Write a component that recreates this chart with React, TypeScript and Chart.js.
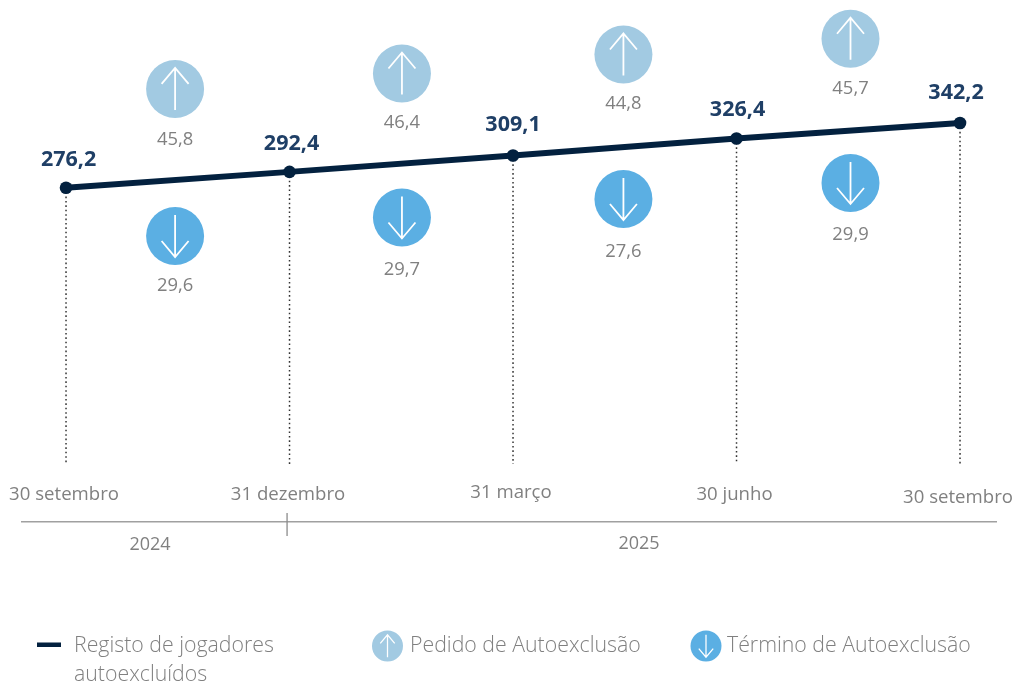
import React, { useEffect, useRef } from "react";
import { Chart, registerables } from "chart.js";

Chart.register(...registerables);

// ---- data ----
const periods = ["30 setembro", "31 dezembro", "31 março", "30 junho", "30 setembro"];
const periodIndex = [0, 1, 2, 3, 4];
const registered = [276.2, 292.4, 309.1, 326.4, 342.2];
const registeredLabels = ["276,2", "292,4", "309,1", "326,4", "342,2"];
const requests = ["45,8", "46,4", "44,8", "45,7"];
const terminations = ["29,6", "29,7", "27,6", "29,9"];
const years = ["2024", "2025"];
const seriesNames = ["Registo de jogadores\nautoexcluídos", "Pedido de Autoexclusão", "Término de Autoexclusão"];

// ---- layout anchors, expressed in axis units ----
const iconX = [0.488, 1.503, 2.494, 3.51];
const requestIconY = [377, 392.7, 412.1, 428.2];
const terminationIconY = [227, 245.9, 264.7, 281.1];
const yearTickX = [0.376, 2.564];
const separatorX = 0.989;
const Y_MIN = -227.82;
const Y_MAX = 467.68;
const X_MIN = -0.197;
const X_MAX = 4.161;
const DROP_BASE = -5.5;
const TICK_AXIS_Y = -25.7;
const RULE_Y = -64.6;
const SEP_TOP = -55.5;
const SEP_BOTTOM = -78.9;

const NAVY = "#03213F";
const LABEL_NAVY = "#1F3F66";
const GREY = "#808080";
const LIGHT_BLUE = "#A2CAE2";
const BLUE = "#5BAFE3";
const FAMILY = "'Open Sans', sans-serif";

function drawArrow(g: CanvasRenderingContext2D, cx: number, cy: number, up: boolean, k: number) {
  const s = up ? k : -k;
  g.save();
  g.strokeStyle = "#fff";
  g.lineWidth = 1.8 * Math.max(k, 0.7);
  g.beginPath();
  g.moveTo(cx, cy + 21 * s);
  g.lineTo(cx, cy - 21 * s);
  g.moveTo(cx - 13.5 * k, cy - 5 * s);
  g.lineTo(cx, cy - 21 * s);
  g.lineTo(cx + 13.5 * k, cy - 5 * s);
  g.stroke();
  g.restore();
}

function drawBadge(g: CanvasRenderingContext2D, cx: number, cy: number, r: number, color: string, up: boolean) {
  g.save();
  g.fillStyle = color;
  g.beginPath();
  g.arc(cx, cy, r, 0, Math.PI * 2);
  g.fill();
  g.restore();
  drawArrow(g, cx, cy, up, r / 29);
}

const tickNudge = [-2, -1.5, -2, -2, -2];
const tickNudgeY = [0, 0, -2, 0, 3];
const yearNudgeY = [1, 0];

const nudgeTicks = {
  id: "nudgeTicks",
  afterLayout(chart: any) {
    chart.scales.x.getLabelItems().forEach((it: any, i: number) => {
      it.options.translation[0] += tickNudge[i] ?? 0;
      it.options.translation[1] += tickNudgeY[i] ?? 0;
    });
    chart.scales.xYear.getLabelItems().forEach((it: any, i: number) => {
      it.options.translation[1] += yearNudgeY[i] ?? 0;
    });
  },
};

const pointLabelOffset = [
  [2.5, -28],
  [2, -28],
  [0, -30.5],
  [1, -28.5],
  [-4, -30],
];
const requestLabelOffset = [50.5, 49.5, 49, 50];
const terminationLabelOffset = [49.5, 52, 53, 52];

const annotate = {
  id: "annotate",
  afterDraw(chart: any) {
    const { ctx, scales } = chart;
    const { x, y } = scales;
    ctx.save();
    iconX.forEach((v, i) => {
      drawArrow(ctx, x.getPixelForValue(v), y.getPixelForValue(requestIconY[i]), true, 1);
      drawArrow(ctx, x.getPixelForValue(v), y.getPixelForValue(terminationIconY[i]), false, 1);
    });

    ctx.textAlign = "center";
    ctx.textBaseline = "middle";

    ctx.font = `700 21.5px ${FAMILY}`;
    ctx.fillStyle = LABEL_NAVY;
    registeredLabels.forEach((t, i) => {
      ctx.fillText(
        t,
        x.getPixelForValue(periodIndex[i]) + pointLabelOffset[i][0],
        y.getPixelForValue(registered[i]) + pointLabelOffset[i][1]
      );
    });

    ctx.font = `400 18.4px ${FAMILY}`;
    ctx.fillStyle = GREY;
    requests.forEach((t, i) => {
      ctx.fillText(t, x.getPixelForValue(iconX[i]), y.getPixelForValue(requestIconY[i]) + requestLabelOffset[i]);
    });
    terminations.forEach((t, i) => {
      ctx.fillText(t, x.getPixelForValue(iconX[i]), y.getPixelForValue(terminationIconY[i]) + terminationLabelOffset[i]);
    });

    // legend
    ctx.textAlign = "left";
    ctx.font = `300 21.3px ${FAMILY}`;
    ctx.fillStyle = NAVY;
    ctx.fillRect(37, 642.5, 24, 4.5);
    ctx.fillStyle = "#808080";
    const [l0a, l0b] = seriesNames[0].split("\n");
    ctx.fillText(l0a, 74, 646);
    ctx.fillText(l0b, 74, 675);
    drawBadge(ctx, 387.5, 646, 15.5, LIGHT_BLUE, true);
    ctx.fillText(seriesNames[1], 410, 646);
    drawBadge(ctx, 706, 646, 15.5, BLUE, false);
    ctx.fillText(seriesNames[2], 727, 646);
    ctx.restore();
  },
};

export default function App() {
  const ref = useRef<HTMLCanvasElement>(null);

  useEffect(() => {
    const dropPoints: any[] = [];
    periodIndex.forEach((p, i) => {
      dropPoints.push({ x: p, y: registered[i] }, { x: p, y: DROP_BASE }, { x: p, y: null });
    });

    const zeroPadding = (s: any) => {
      s.paddingLeft = s.paddingRight = s.paddingTop = s.paddingBottom = 0;
    };

    const chart = new Chart(ref.current!, {
      type: "line",
      data: {
        datasets: [
          {
            label: "drop lines",
            data: dropPoints,
            borderColor: "#333333",
            borderWidth: 1.5,
            borderDash: [1.6, 2.8],
            pointRadius: 0,
            spanGaps: false,
            order: 5,
          },
          {
            label: "separator",
            data: [
              { x: separatorX, y: SEP_TOP },
              { x: separatorX, y: SEP_BOTTOM },
            ],
            borderColor: "#8c8c8c",
            borderWidth: 1.3,
            pointRadius: 0,
            order: 4,
          },
          {
            label: seriesNames[0],
            data: periodIndex.map((p, i) => ({ x: p, y: registered[i] })),
            borderColor: NAVY,
            backgroundColor: NAVY,
            borderWidth: 6,
            pointRadius: 6.3,
            pointBorderWidth: 0,
            tension: 0,
            order: 1,
          },
          {
            label: seriesNames[1],
            data: iconX.map((v, i) => ({ x: v, y: requestIconY[i] })),
            showLine: false,
            backgroundColor: LIGHT_BLUE,
            pointStyle: "circle",
            pointBorderWidth: 0,
            pointRadius: 29,
            order: 2,
          },
          {
            label: seriesNames[2],
            data: iconX.map((v, i) => ({ x: v, y: terminationIconY[i] })),
            showLine: false,
            backgroundColor: BLUE,
            pointStyle: "circle",
            pointBorderWidth: 0,
            pointRadius: 29,
            order: 2,
          },
        ],
      },
      options: {
        animation: false,
        responsive: false,
        layout: { autoPadding: false, padding: { left: 22, right: 19, top: 0, bottom: 0 } },
        plugins: { legend: { display: false }, tooltip: { enabled: false } },
        scales: {
          x: {
            type: "linear",
            axis: "x",
            position: { y: TICK_AXIS_Y },
            min: X_MIN,
            max: X_MAX,
            afterFit: zeroPadding,
            afterBuildTicks: (s: any) => {
              s.ticks = periodIndex.map((value) => ({ value }));
            },
            grid: { display: false, drawTicks: false },
            border: { display: false },
            ticks: {
              autoSkip: false,
              maxRotation: 0,
              padding: 0,
              color: GREY,
              font: { family: FAMILY, size: 18.6, weight: "400" },
              callback: (v: any) => periods[periodIndex.indexOf(Number(v))],
            },
          },
          xYear: {
            type: "linear",
            axis: "x",
            position: { y: RULE_Y },
            min: X_MIN,
            max: X_MAX,
            afterFit: zeroPadding,
            afterBuildTicks: (s: any) => {
              s.ticks = yearTickX.map((value) => ({ value }));
            },
            grid: { display: false, drawTicks: false },
            border: { display: true, color: "#a0a0a0", width: 1.5 },
            ticks: {
              autoSkip: false,
              maxRotation: 0,
              padding: 11,
              color: GREY,
              font: { family: FAMILY, size: 18, weight: "400" },
              callback: (v: any) => years[yearTickX.indexOf(Number(v))],
            },
          },
          y: { type: "linear", display: false, min: Y_MIN, max: Y_MAX },
        },
      } as any,
      plugins: [nudgeTicks, annotate],
    });
    return () => chart.destroy();
  }, []);

  return (
    <div style={{ position: "absolute", left: 0, top: 0, width: 1015, height: 682 }}>
      <canvas ref={ref} width={1015} height={682} style={{ display: "block" }} />
    </div>
  );
}
